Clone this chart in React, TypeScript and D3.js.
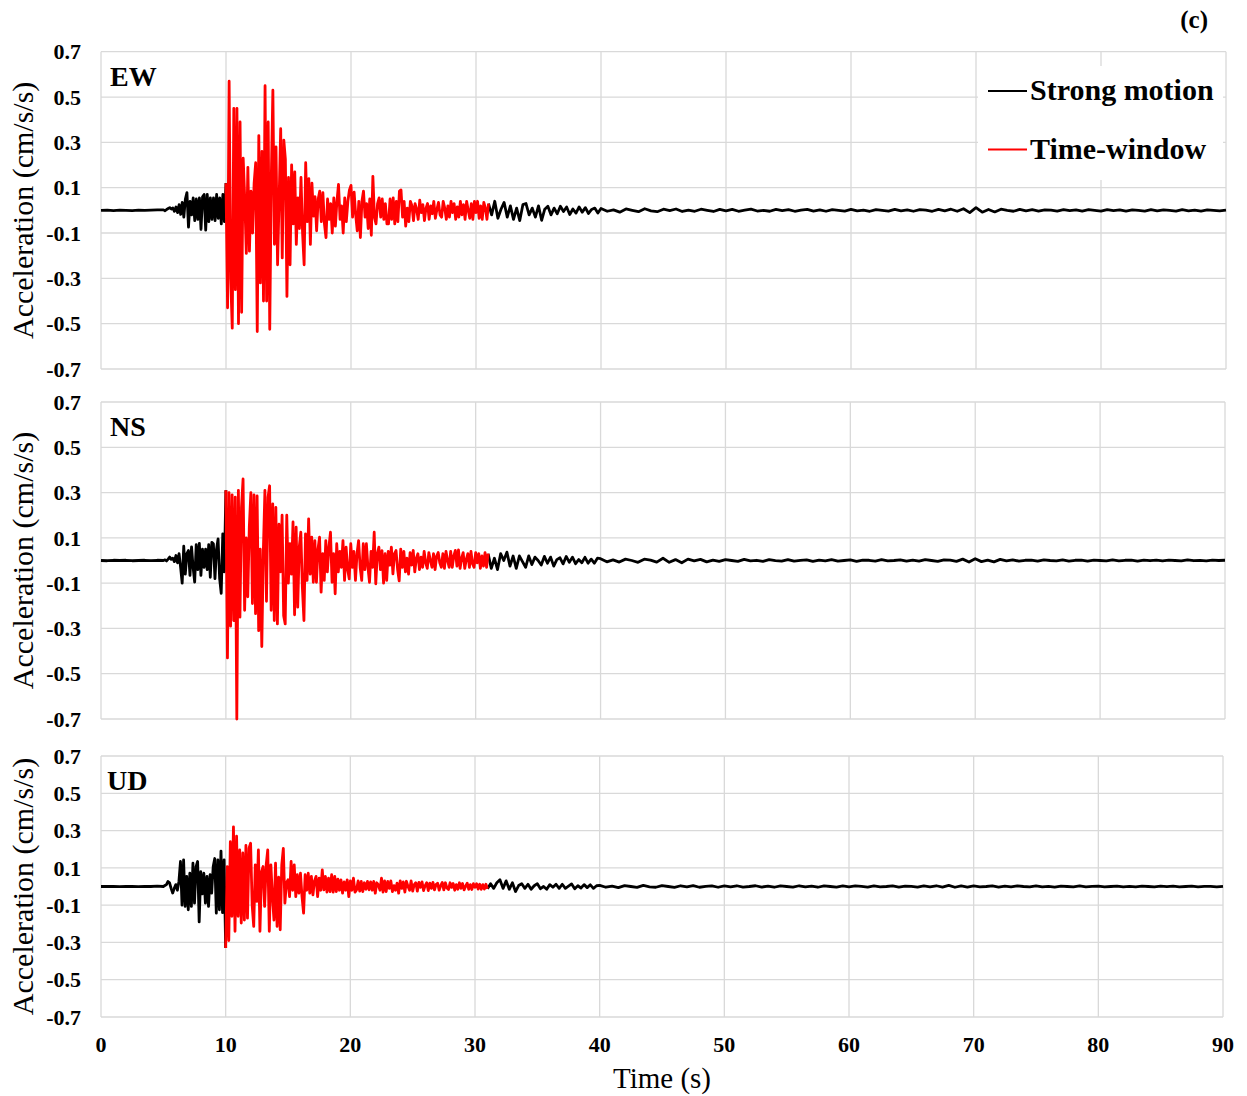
import React from "react";
import * as d3 from "d3";

// ---------- data ----------
const timeTicks = [0, 10, 20, 30, 40, 50, 60, 70, 80, 90];
const accTicks = [0.7, 0.5, 0.3, 0.1, -0.1, -0.3, -0.5, -0.7];
const accTickLabels = ["0.7", "0.5", "0.3", "0.1", "-0.1", "-0.3", "-0.5", "-0.7"];
const windowStart = 10; // s, start of time-window (red)
const windowEnd = 31; // s, end of time-window
const preStep = 0.5; // sampling of quiet lead-in (0 - 4.5 s)
const beforeStart = 5;
const strongStep = 0.125; // sampling of 5 - 31 s
const nearStep = 0.25; // sampling of 31 - 39.75 s
const farStart = 40;
const farStep = 0.5; // sampling of 40 - 90 s

// ----- EW -----
const ewPre = [0, 0.001, -0.001, 0.001, 0, -0.001, 0.001, 0, 0.001, 0.002];
const ewBefore = [
  0.002, -0.002, 0.004, 0.008, 0.012, 0.006, 0.01, -0.004,
  0.015, -0.01, 0.025, -0.018, 0.035, -0.03, 0.05, 0.078,
  -0.074, 0.04, -0.02, 0.055, -0.045, 0.05, -0.04, 0.055,
  -0.084, 0.06, 0.07, -0.087, 0.07, -0.05, 0.055, -0.04,
  0.055, -0.045, 0.07, -0.035, 0.055, -0.06, 0.07, -0.05,
];
const ewWindow = [
  0.12, -0.43, 0.57, -0.3, -0.52, 0.45, -0.35, 0.45,
  -0.5, 0.39, -0.45, 0.23, 0.05, -0.19, 0.19, -0.18,
  0.085, -0.1, 0.12, 0.21, -0.535, 0.33, -0.32, 0.26,
  -0.4, 0.55, -0.4, 0.39, -0.525, 0.15, 0.53, -0.15,
  0.28, -0.24, 0.05, 0.36, -0.21, 0.31, 0.225, -0.38,
  0.145, -0.24, 0.2, -0.06, 0.17, -0.15, 0.055, -0.08,
  0.145, -0.1, -0.24, 0.21, -0.05, 0.14, -0.15, 0.12,
  -0.025, 0.06, -0.09, 0.05, 0.085, -0.05, 0.078, -0.06,
  -0.12, 0.05, -0.04, 0.03, -0.1, 0.055, -0.07, 0.04,
  0.115, -0.04, 0.02, -0.1, 0.055, -0.05, 0.04, 0.09,
  0.11, -0.03, 0.08, -0.02, -0.09, 0.04, -0.12, 0.04,
  0.085, -0.03, 0.03, -0.08, 0.05, -0.11, 0.15, -0.03,
  -0.06, 0.03, 0.055, -0.03, 0.05, -0.04, 0.03, -0.06,
  -0.06, 0.05, -0.04, 0.055, -0.06, 0.04, -0.05, 0.085,
  0.09, -0.03, 0.04, -0.07, 0.01, -0.05, 0.04, 0.02,
  -0.045, 0.03, 0.005, -0.04, 0.045, -0.01, 0.025, -0.045,
  0.01, 0.03, -0.04, 0.02, -0.015, 0.04, -0.035, 0.005,
  0.035, -0.02, -0.03, 0.04, 0.01, -0.04, 0.02, -0.03,
  0.04, -0.01, 0.03, -0.04, 0.015, -0.03, 0.04, -0.02,
  0.025, -0.04, 0.04, 0.0, -0.035, 0.03, -0.04, 0.04,
  -0.01, 0.04, -0.035, 0.02, -0.04, 0.035, 0.01, -0.04,
];
const ewNear = [
  0.03, -0.02, 0.04, -0.035, 0.005, 0.035, -0.03, 0.02,
  -0.04, 0.01, -0.045, 0.025, 0.03, -0.02, 0.01, -0.03,
  0.02, -0.044, 0.005, 0.018, -0.02, 0.01, -0.015, 0.018,
  -0.005, 0.015, -0.018, 0.006, -0.012, 0.015, -0.008, 0.012,
  -0.014, 0.004, 0.01, -0.012,
];
const ewFar = [
  0.008, -0.004, 0.002, -0.008, 0.006, 0.0, -0.006, 0.007, -0.002, -0.006,
  0.005, -0.001, 0.006, -0.005, 0.001, -0.004, 0.005, 0.0, -0.005, 0.004,
  -0.002, 0.004, -0.004, 0.001, 0.005, -0.003, 0.0, -0.004, 0.004, -0.001,
  0.003, -0.004, 0.001, 0.004, -0.003, 0.002, -0.004, 0.003, 0.0, -0.003,
  0.004, -0.002, 0.001, -0.004, 0.003, 0.0, -0.003, 0.004, -0.002, 0.002,
  -0.004, 0.003, 0.001, -0.004, 0.004, -0.002, 0.005, -0.004, 0.007, -0.01,
  0.012, -0.008, 0.004, -0.007, 0.005, 0.0, -0.004, 0.004, -0.002, 0.003,
  -0.003, 0.002, 0.001, -0.003, 0.003, -0.001, 0.002, -0.003, 0.003, 0.0,
  -0.003, 0.003, -0.001, 0.002, -0.003, 0.002, 0.0, -0.003, 0.003, -0.002,
  0.002, 0.0, -0.003, 0.003, -0.002, 0.001, -0.003, 0.002, 0.0, -0.002,
  0.001,
];

// ----- NS -----
const nsPre = [0, -0.001, 0.001, 0, 0.001, -0.001, 0, 0.001, -0.001, 0.001];
const nsBefore = [
  0, 0.003, -0.002, 0.006, 0.015, 0.005, 0.01, -0.005,
  0.022, -0.01, 0.03, -0.03, -0.1, 0.063, -0.06, 0.03,
  0.044, -0.066, 0.06, -0.03, -0.095, 0.07, -0.04, 0.076,
  -0.066, 0.05, -0.03, 0.05, -0.04, 0.07, -0.074, 0.08,
  0.074, -0.08, 0.05, 0.095, -0.08, -0.145, 0.118, -0.05,
];
const nsWindow = [
  0.31, -0.43, 0.3, -0.29, 0.29, -0.265, 0.28, -0.7,
  0.31, -0.25, 0.235, 0.36, -0.22, 0.1, -0.16, 0.147,
  0.3, -0.19, 0.29, -0.235, 0.285, -0.31, 0.05, -0.38,
  0.044, 0.31, -0.18, 0.28, 0.33, -0.22, 0.25, -0.265,
  0.235, -0.28, 0.16, -0.05, 0.2, -0.244, -0.28, 0.2,
  -0.1, 0.074, -0.06, 0.17, -0.24, 0.147, -0.206, 0.06,
  0.125, -0.12, -0.265, 0.118, -0.088, 0.184, -0.06, 0.103,
  -0.096, 0.088, -0.096, 0.05, 0.103, -0.14, 0.03, -0.088,
  0.088, -0.05, 0.06, 0.125, -0.096, 0.03, -0.147, 0.074,
  -0.05, 0.04, -0.03, 0.088, -0.088, 0.059, -0.04, -0.081,
  0.074, -0.03, 0.04, -0.088, 0.03, 0.088, -0.03, -0.088,
  0.074, -0.04, 0.074, -0.03, -0.096, 0.04, -0.03, 0.125,
  -0.103, 0.03, 0.059, -0.04, 0.044, -0.1, 0.03, -0.088,
  0.04, -0.02, 0.059, -0.059, 0.03, 0.044, -0.04, -0.09,
  0.05, -0.03, 0.04, -0.05, 0.01, -0.06, 0.035, -0.02,
  0.045, -0.05, 0.01, 0.03, -0.04, 0.015, -0.03, 0.04,
  -0.01, -0.035, 0.035, 0.0, -0.03, 0.03, -0.04, 0.02,
  0.035, -0.01, -0.03, 0.03, -0.035, 0.04, 0.0, -0.03,
  0.04, -0.03, 0.02, 0.045, -0.025, 0.047, -0.035, 0.01,
  0.035, -0.035, 0.005, 0.03, -0.03, 0.04, -0.015, -0.03,
  0.035, -0.01, 0.03, -0.035, 0.02, -0.025, 0.035, -0.03,
];
const nsNear = [
  0.03, -0.035, 0.01, -0.04, 0.03, 0.0, 0.037, -0.025,
  0.02, -0.035, 0.02, -0.005, -0.03, 0.02, -0.018, 0.015,
  0.0, -0.02, 0.018, -0.012, 0.015, -0.025, 0.004, 0.012,
  -0.015, 0.018, -0.008, 0.015, -0.014, 0.004, -0.01, 0.014,
  -0.012, 0.006, -0.012, 0.01,
];
const nsFar = [
  0.008, -0.006, 0.003, -0.007, 0.006, 0.0, -0.008, 0.006, 0.002, -0.007,
  0.01, -0.008, 0.004, -0.01, 0.006, -0.002, 0.005, -0.006, 0.002, -0.004,
  0.004, 0.0, -0.004, 0.005, -0.002, 0.001, -0.004, 0.004, -0.001, -0.003,
  0.004, -0.003, 0.001, 0.003, -0.004, 0.002, -0.002, 0.004, -0.003, 0.0,
  0.003, -0.004, 0.002, 0.001, -0.003, 0.004, -0.002, 0.0, 0.003, -0.003,
  0.002, -0.003, 0.004, 0.0, -0.004, 0.003, 0.002, -0.004, 0.006, -0.007,
  0.008, -0.005, 0.002, -0.006, 0.005, -0.002, 0.003, -0.003, 0.001, 0.002,
  -0.003, 0.003, 0.0, -0.002, 0.003, -0.003, 0.001, 0.002, -0.003, 0.002,
  0.0, -0.002, 0.003, -0.002, 0.001, 0.002, -0.003, 0.002, -0.001, 0.002,
  -0.002, 0.002, 0.0, -0.002, 0.003, -0.001, 0.001, -0.002, 0.002, 0.0,
  0.001,
];

// ----- UD -----
const udPre = [0, 0.001, 0, -0.001, 0.001, 0, -0.001, 0.001, 0, 0.002];
const udBefore = [
  0, 0.005, 0.01, 0.027, 0.02, -0.01, -0.035, -0.01,
  0.01, -0.02, 0.027, 0.134, -0.1, 0.143, -0.107, 0.054,
  -0.125, 0.071, -0.107, 0.125, -0.089, 0.107, 0.134, -0.19,
  0.08, -0.04, 0.071, -0.089, 0.054, -0.107, 0.063, -0.036,
  0.107, 0.15, -0.143, 0.143, -0.125, 0.19, -0.14, 0.143,
];
const udWindow = [
  -0.33, 0.107, -0.29, 0.24, -0.16, 0.32, -0.24, 0.27,
  -0.16, 0.196, -0.196, 0.18, -0.18, 0.22, -0.17, 0.205,
  0.232, -0.1, -0.214, 0.116, -0.08, 0.196, -0.24, 0.08,
  0.107, -0.107, 0.116, 0.196, -0.24, 0.116, -0.05, -0.18,
  0.125, -0.214, 0.05, -0.232, 0.116, 0.205, -0.089, 0.02,
  0.036, -0.054, 0.134, -0.02, 0.116, -0.054, 0.063, -0.036,
  0.071, -0.054, -0.143, 0.063, -0.02, 0.071, -0.036, 0.054,
  -0.045, 0.03, 0.054, -0.054, 0.045, -0.02, 0.089, -0.018,
  0.054, -0.03, 0.045, -0.027, 0.063, -0.03, 0.054, -0.027,
  0.04, -0.02, 0.036, -0.036, 0.025, -0.02, 0.036, -0.054,
  0.03, -0.02, 0.045, -0.03, -0.018, 0.03, -0.025, 0.027,
  -0.027, 0.02, -0.015, 0.027, -0.018, 0.025, -0.02, 0.027,
  -0.036, 0.02, 0.009, -0.02, 0.045, -0.03, 0.03, -0.027,
  0.027, -0.01, 0.03, -0.027, 0.005, -0.02, 0.018, -0.036,
  0.03, -0.01, 0.025, -0.03, 0.028, 0.0, -0.02, 0.03,
  -0.025, 0.01, 0.02, -0.025, 0.022, -0.005, 0.025, -0.022,
  0.005, 0.02, -0.022, 0.018, -0.01, 0.022, -0.018, 0.01,
  0.018, -0.02, 0.005, 0.022, -0.018, 0.02, -0.008, -0.016,
  0.02, -0.005, 0.016, -0.02, 0.01, -0.015, 0.02, -0.01,
  0.016, -0.018, 0.002, 0.018, -0.015, 0.01, -0.016, 0.015,
  -0.004, 0.015, -0.014, 0.012, -0.015, 0.01, -0.014, 0.012,
];
const udNear = [
  -0.012, 0.015, -0.01, 0.02, 0.036, -0.01, 0.03, -0.015,
  0.02, -0.027, 0.005, 0.015, -0.01, 0.012, -0.015, 0.004,
  0.015, -0.012, 0.0, -0.015, 0.01, -0.004, 0.012, -0.01,
  0.012, -0.01, 0.002, 0.014, -0.012, 0.004, -0.008, 0.01,
  -0.006, 0.009, -0.01, 0.004,
];
const udFar = [
  0.006, -0.004, 0.002, -0.006, 0.005, 0.0, -0.005, 0.006, -0.002, -0.004,
  0.005, 0.0, -0.005, 0.004, -0.002, 0.005, -0.004, 0.001, 0.003, -0.004,
  0.003, -0.002, 0.004, -0.003, 0.0, 0.004, -0.003, 0.002, -0.004, 0.003,
  0.0, -0.003, 0.004, -0.002, 0.002, -0.004, 0.003, 0.0, -0.003, 0.003,
  -0.002, 0.003, 0.001, -0.003, 0.003, -0.002, 0.0, 0.003, -0.003, 0.002,
  0.001, -0.003, 0.003, -0.002, 0.004, -0.003, 0.006, -0.004, 0.003, -0.003,
  0.003, -0.002, 0.0, 0.003, -0.003, 0.002, -0.002, 0.003, 0.0, -0.002,
  0.003, -0.002, 0.001, -0.003, 0.002, 0.0, -0.002, 0.003, -0.002, 0.001,
  0.002, -0.002, 0.0, 0.002, -0.002, 0.001, -0.002, 0.002, 0.0, -0.002,
  0.002, -0.001, 0.002, -0.002, 0.0, 0.002, -0.002, 0.001, 0.001, -0.002,
  0.001,
];

const componentLabels = ["EW", "NS", "UD"];
const legendLabels = ["Strong motion", "Time-window"];

// ---------- layout ----------
const W = 1247;
const H = 1096;
const FONT = '"Liberation Serif", "Times New Roman", Times, serif';
const GRID = "#d9d9d9";
const WAVE_W = 2.8;

const panelLayout = [
  { top: 51.7, bottom: 369, left: 101, right: 1226, labelX: 110 },
  { top: 402, bottom: 719, left: 101, right: 1225, labelX: 110 },
  { top: 756, bottom: 1017, left: 101, right: 1223, labelX: 107 },
];

const panelData = [
  { pre: ewPre, before: ewBefore, win: ewWindow, near: ewNear, far: ewFar },
  { pre: nsPre, before: nsBefore, win: nsWindow, near: nsNear, far: nsFar },
  { pre: udPre, before: udBefore, win: udWindow, near: udNear, far: udFar },
];

type Pt = [number, number];
const series = (vals: number[], start: number, step: number): Pt[] =>
  vals.map((v, i) => [start + i * step, v] as Pt);

function Panel({ idx }: { idx: number }) {
  const L = panelLayout[idx];
  const D = panelData[idx];
  const x = d3.scaleLinear().domain([0, 90]).range([L.left, L.right]);
  const y = d3.scaleLinear().domain([-0.7, 0.7]).range([L.bottom, L.top]);
  const line = d3
    .line<Pt>()
    .x((d) => x(d[0]))
    .y((d) => y(d[1]));

  const black1: Pt[] = [
    ...series(D.pre, 0, preStep),
    ...series(D.before, beforeStart, strongStep),
    [windowStart, D.win[0]],
  ];
  const red: Pt[] = [...series(D.win, windowStart, strongStep), [windowEnd, D.near[0]]];
  const black2: Pt[] = [...series(D.near, windowEnd, nearStep), ...series(D.far, farStart, farStep)];

  const midY = (L.top + L.bottom) / 2;

  return (
    <g>
      {accTicks.map((v) => (
        <line key={"h" + v} x1={L.left} x2={L.right} y1={y(v)} y2={y(v)} stroke={GRID} strokeWidth={1.3} />
      ))}
      {timeTicks.map((t) => (
        <line key={"v" + t} x1={x(t)} x2={x(t)} y1={L.top} y2={L.bottom} stroke={GRID} strokeWidth={1.3} />
      ))}
      {accTicks.map((v, i) => (
        <text
          key={"yl" + v}
          x={81}
          y={y(v)}
          dy="0.35em"
          textAnchor="end"
          fontFamily={FONT}
          fontWeight="bold"
          fontSize={22}
        >
          {accTickLabels[i]}
        </text>
      ))}
      <text
        transform={`translate(33,${midY}) rotate(-90)`}
        textAnchor="middle"
        fontFamily={FONT}
        fontSize={30}
      >
        Acceleration (cm/s/s)
      </text>
      {idx === 0 && (
        <g>
          <rect x={978} y={66} width={245} height={114} fill="#fff" />
          <line x1={988} x2={1027} y1={91} y2={91} stroke="#000" strokeWidth={2.2} />
          <text x={1030} y={100} fontFamily={FONT} fontWeight="bold" fontSize={30}>
            {legendLabels[0]}
          </text>
          <line x1={988} x2={1027} y1={149.5} y2={149.5} stroke="#ff0000" strokeWidth={2.2} />
          <text x={1030} y={159} fontFamily={FONT} fontWeight="bold" fontSize={30}>
            {legendLabels[1]}
          </text>
        </g>
      )}
      <path d={line(black1) || ""} fill="none" stroke="#000" strokeWidth={WAVE_W} strokeLinejoin="round" />
      <path d={line(black2) || ""} fill="none" stroke="#000" strokeWidth={WAVE_W} strokeLinejoin="round" />
      <path d={line(red) || ""} fill="none" stroke="#ff0000" strokeWidth={WAVE_W} strokeLinejoin="round" />
      <text x={L.labelX} y={L.top + 34} fontFamily={FONT} fontWeight="bold" fontSize={28}>
        {componentLabels[idx]}
      </text>
    </g>
  );
}

export default function App() {
  const last = panelLayout[2];
  const xb = d3.scaleLinear().domain([0, 90]).range([last.left, last.right]);
  return (
    <svg
      width={W}
      height={H}
      viewBox={`0 0 ${W} ${H}`}
      style={{ position: "absolute", left: 0, top: 0, display: "block", background: "#fff" }}
    >
      <rect x={0} y={0} width={W} height={H} fill="#fff" />
      {panelLayout.map((_, i) => (
        <Panel key={i} idx={i} />
      ))}
      {timeTicks.map((t) => (
        <text
          key={"xt" + t}
          x={xb(t)}
          y={1052}
          textAnchor="middle"
          fontFamily={FONT}
          fontWeight="bold"
          fontSize={22}
        >
          {t}
        </text>
      ))}
      <text x={662} y={1088} textAnchor="middle" fontFamily={FONT} fontSize={29}>
        Time (s)
      </text>
      <text x={1208} y={28} textAnchor="end" fontFamily={FONT} fontWeight="bold" fontSize={25}>
        (c)
      </text>
    </svg>
  );
}
